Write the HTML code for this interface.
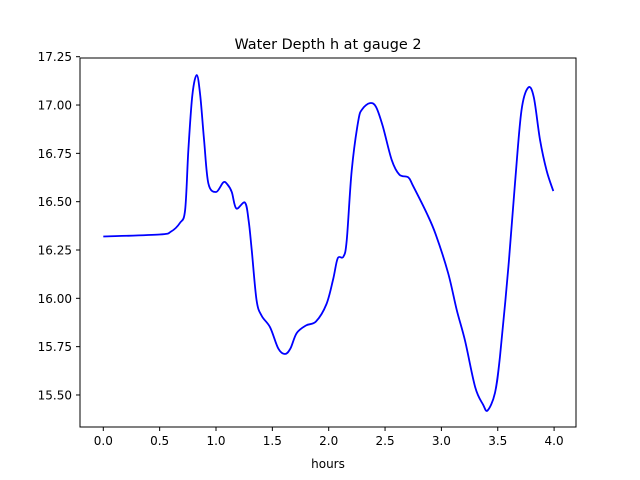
<!DOCTYPE html>
<html><head><meta charset="utf-8"><style>
body{margin:0;background:#fff;}
svg{display:block;font-family:"DejaVu Sans","Liberation Sans",sans-serif;}
</style></head><body>
<svg id="chart" width="640" height="480">
<rect width="640" height="480" fill="#fff"/>
<text x="328" y="49" text-anchor="middle" font-size="14.4">Water Depth h at gauge 2</text>
<text x="328" y="468" text-anchor="middle" font-size="12">hours</text>
<g id="xt"></g>
<g id="yt"></g>
<path id="line" fill="none" stroke="#0000ff" stroke-width="1.8" stroke-linejoin="round"/>
<rect x="80" y="58" width="496" height="369" fill="none" stroke="#000" stroke-width="1"/>
</svg>
<script>
const times=[0,0.5,0.6,0.68,0.726,0.755,0.79,0.829,0.86,0.894,0.932,1.0,1.065,1.1,1.14,1.18,1.257,1.29,1.317,1.36,1.405,1.48,1.553,1.612,1.66,1.716,1.8,1.887,1.98,2.04,2.08,2.13,2.16,2.204,2.263,2.3,2.366,2.42,2.48,2.559,2.627,2.706,2.75,2.87,2.95,3.06,3.136,3.21,3.3,3.37,3.41,3.475,3.52,3.594,3.653,3.71,3.77,3.82,3.875,3.934,3.993];
const depths=[16.32,16.33,16.345,16.39,16.457,16.77,17.05,17.155,17.05,16.82,16.595,16.55,16.6,16.59,16.55,16.465,16.495,16.4,16.25,15.99,15.91,15.85,15.74,15.712,15.74,15.82,15.86,15.88,15.97,16.1,16.207,16.215,16.3,16.66,16.92,16.98,17.01,16.99,16.89,16.716,16.64,16.626,16.58,16.44,16.33,16.13,15.94,15.78,15.54,15.45,15.42,15.51,15.7,16.16,16.595,16.97,17.09,17.04,16.82,16.66,16.555];
const xTicks=[0,0.5,1,1.5,2,2.5,3,3.5,4];
const xTickLabels=["0.0","0.5","1.0","1.5","2.0","2.5","3.0","3.5","4.0"];
const yTicks=[15.5,15.75,16,16.25,16.5,16.75,17,17.25];
const yTickLabels=["15.50","15.75","16.00","16.25","16.50","16.75","17.00","17.25"];
const X=t=>103.3+t*112.7;
const Y=v=>250-(v-16.25)*193.3;
const NS="http://www.w3.org/2000/svg";
const xt=document.getElementById('xt'),yt=document.getElementById('yt');
xTicks.forEach((t,i)=>{
 const l=document.createElementNS(NS,'line');
 l.setAttribute('x1',X(t));l.setAttribute('x2',X(t));l.setAttribute('y1',427);l.setAttribute('y2',431);l.setAttribute('stroke','#000');
 
 
 xt.appendChild(l);
 const s=document.createElementNS(NS,'text');
 s.setAttribute('x',X(t));s.setAttribute('y',445);s.setAttribute('text-anchor','middle');s.setAttribute('font-size','12');
 s.textContent=xTickLabels[i];
 
 
 xt.appendChild(s);
});
yTicks.forEach((v,i)=>{
 const l=document.createElementNS(NS,'line');
 l.setAttribute('x1',76);l.setAttribute('x2',80);l.setAttribute('y1',Y(v));l.setAttribute('y2',Y(v));l.setAttribute('stroke','#000');
 
 
 yt.appendChild(l);
 const s=document.createElementNS(NS,'text');
 s.setAttribute('x',72);s.setAttribute('y',Y(v)+4.5);s.setAttribute('text-anchor','end');s.setAttribute('font-size','12');
 s.textContent=yTickLabels[i];
 
 
 yt.appendChild(s);
});
// smooth path via Catmull-Rom
const pts=times.map((t,i)=>[X(t),Y(depths[i])]);
let d=`M${pts[0][0]},${pts[0][1]}`;
for(let i=0;i<pts.length-1;i++){
 const p0=pts[i-1]||pts[i],p1=pts[i],p2=pts[i+1],p3=pts[i+2]||p2;
 const c1=[p1[0]+(p2[0]-p0[0])/6,p1[1]+(p2[1]-p0[1])/6];
 const c2=[p2[0]-(p3[0]-p1[0])/6,p2[1]-(p3[1]-p1[1])/6];
 d+=` C${c1[0]},${c1[1]} ${c2[0]},${c2[1]} ${p2[0]},${p2[1]}`;
}
document.getElementById('line').setAttribute('d',d);
</script>
</body></html>
